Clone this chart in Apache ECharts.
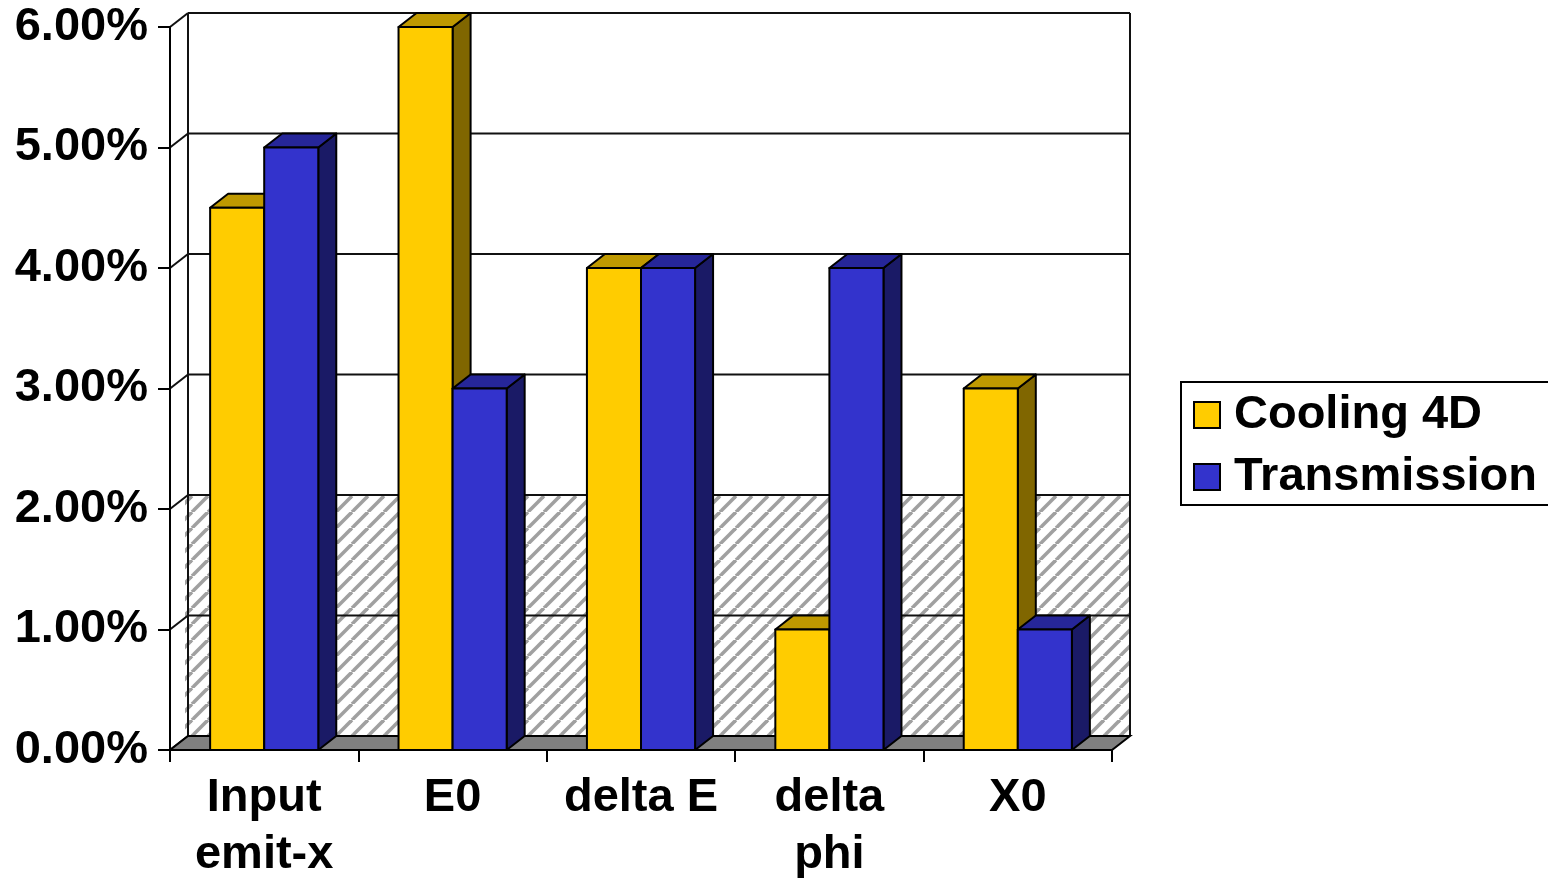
<!DOCTYPE html>
<html>
<head>
<meta charset="utf-8">
<title>Cooling 4D vs Transmission</title>
<script src="https://cdn.jsdelivr.net/npm/echarts@6/dist/echarts.min.js"></script>
<style>
  html, body { margin: 0; padding: 0; background: #fff; }
  #chart { width: 1548px; height: 881px; }
</style>
</head>
<body>
<div id="chart"></div>
<script>
// Categories and series values (percent)
const categories = ['Input\nemit-x', 'E0', 'delta E', 'delta\nphi', 'X0'];
const seriesNames = ['Cooling 4D', 'Transmission'];
const cooling4D = [4.5, 6.0, 4.0, 1.0, 3.0];
const transmission = [5.0, 3.0, 4.0, 4.0, 1.0];
// Value axis ticks (percent)
const yTicks = [0, 1, 2, 3, 4, 5, 6];
// Hatched band on the back wall (percent range)
const hatchBand = [0, 2];

// Face colours: front, top, side
const palette = [
  { front: '#FFCC00', top: '#BF9900', side: '#806600' },
  { front: '#3333CC', top: '#262699', side: '#1A1A66' }
];

const FONT = "'Liberation Sans', Arial, sans-serif";
const DEPTH_X = 18;   // 3D depth offset to the right
const DEPTH_Y = -14;  // 3D depth offset upwards
const BAR_FRAC = 0.287; // bar width as a fraction of the category width

// Diagonal hatch tile
function makeHatch() {
  const s = 16;
  const c = document.createElement('canvas');
  c.width = s; c.height = s;
  const g = c.getContext('2d');
  g.fillStyle = '#fff';
  g.fillRect(0, 0, s, s);
  g.strokeStyle = '#a0a0a0';
  g.lineWidth = 3.6;
  for (let k = -1; k <= 2; k++) {
    g.beginPath();
    g.moveTo(k * s - s, s);
    g.lineTo(k * s, 0);
    g.stroke();
  }
  return c;
}
const hatchTile = makeHatch();

// Back wall, side wall, floor and gridlines
function renderWalls(params, api) {
  const cs = params.coordSys;
  const x0 = cs.x, x1 = cs.x + cs.width;
  const yBase = api.coord([0, 0])[1];
  const yTop = api.coord([0, yTicks[yTicks.length - 1]])[1];
  const bx0 = x0 + DEPTH_X, bx1 = x1 + DEPTH_X;
  const children = [];
  const lineStyle = { stroke: '#111', lineWidth: 2, fill: null };

  // back wall
  children.push({ type: 'rect', shape: { x: bx0, y: yTop + DEPTH_Y, width: bx1 - bx0, height: yBase - yTop }, style: { fill: '#fff' } });
  // hatched band
  const hy0 = api.coord([0, hatchBand[1]])[1] + DEPTH_Y;
  const hy1 = api.coord([0, hatchBand[0]])[1] + DEPTH_Y;
  children.push({ type: 'rect', shape: { x: bx0 - 3, y: hy0, width: bx1 - bx0 + 3, height: hy1 - hy0 }, style: { fill: { image: hatchTile, repeat: 'repeat' } } });

  // gridlines on back wall and side wall
  yTicks.forEach(function (v) {
    const y = api.coord([0, v])[1];
    children.push({ type: 'line', shape: { x1: bx0, y1: y + DEPTH_Y, x2: bx1, y2: y + DEPTH_Y }, style: lineStyle });
    children.push({ type: 'line', shape: { x1: x0, y1: y, x2: bx0, y2: y + DEPTH_Y }, style: lineStyle });
  });
  // back wall vertical edges
  children.push({ type: 'line', shape: { x1: bx0, y1: yTop + DEPTH_Y, x2: bx0, y2: yBase + DEPTH_Y }, style: lineStyle });
  children.push({ type: 'line', shape: { x1: bx1, y1: yTop + DEPTH_Y, x2: bx1, y2: yBase + DEPTH_Y }, style: lineStyle });

  // floor
  children.push({
    type: 'polygon',
    shape: { points: [[x0, yBase], [x1, yBase], [bx1, yBase + DEPTH_Y], [bx0, yBase + DEPTH_Y]] },
    style: { fill: '#808080', stroke: '#000', lineWidth: 2 }
  });
  return { type: 'group', children: children };
}

// 3D bar: front, top and side faces
function makeBarRenderer(seriesIndex) {
  const col = palette[seriesIndex];
  return function (params, api) {
    const idx = api.value(0);
    const v = api.value(1);
    const top = api.coord([idx, v]);
    const base = api.coord([idx, 0]);
    const cw = api.size([1, 0])[0];
    const w = cw * BAR_FRAC;
    const xl = top[0] - w + seriesIndex * w;
    const xr = xl + w;
    const yt = top[1], yb = base[1];
    const stroke = { stroke: '#000', lineWidth: 2, lineJoin: 'round' };
    return {
      type: 'group',
      children: [
        { type: 'polygon', shape: { points: [[xr, yt], [xr + DEPTH_X, yt + DEPTH_Y], [xr + DEPTH_X, yb + DEPTH_Y], [xr, yb]] }, style: Object.assign({ fill: col.side }, stroke) },
        { type: 'polygon', shape: { points: [[xl, yt], [xl + DEPTH_X, yt + DEPTH_Y], [xr + DEPTH_X, yt + DEPTH_Y], [xr, yt]] }, style: Object.assign({ fill: col.top }, stroke) },
        { type: 'rect', shape: { x: xl, y: yt, width: w, height: yb - yt }, style: Object.assign({ fill: col.front }, stroke) }
      ]
    };
  };
}

const chart = echarts.init(document.getElementById('chart'));
chart.setOption({
  animation: false,
  backgroundColor: '#fff',
  grid: { left: 170, top: 27, width: 942, height: 723, containLabel: false, outerBoundsMode: 'none' },
  legend: {
    data: seriesNames,
    orient: 'vertical',
    left: 1181,
    top: 382,
    icon: 'rect',
    itemWidth: 26,
    itemHeight: 26,
    itemGap: 12,
    padding: [8, 30, 3, 12],
    borderColor: '#000',
    borderWidth: 2,
    backgroundColor: '#fff',
    selectedMode: false,
    itemStyle: { borderColor: '#000', borderWidth: 2 },
    textStyle: { fontFamily: FONT, fontWeight: 'bold', fontSize: 47, color: '#000', lineHeight: 50, padding: [0, 0, 0, 9] }
  },
  xAxis: {
    type: 'category',
    data: categories,
    boundaryGap: true,
    axisLine: { show: true, lineStyle: { color: '#000', width: 2 } },
    axisTick: { show: true, length: 12, alignWithLabel: false, lineStyle: { color: '#000', width: 2 } },
    axisLabel: { interval: 0, margin: 20, fontFamily: FONT, fontWeight: 'bold', fontSize: 47, color: '#000', lineHeight: 57 },
    splitLine: { show: false },
    z: 10
  },
  yAxis: {
    type: 'value',
    min: 0,
    max: 6,
    interval: 1,
    axisLine: { show: true, lineStyle: { color: '#000', width: 2 } },
    axisTick: { show: true, length: 12, lineStyle: { color: '#000', width: 2 } },
    axisLabel: {
      margin: 22,
      fontFamily: FONT, fontWeight: 'bold', fontSize: 47, color: '#000',
      formatter: function (v) { return v.toFixed(2) + '%'; }
    },
    splitLine: { show: false },
    z: 10
  },
  series: [
    {
      name: 'walls',
      type: 'custom',
      silent: true,
      clip: false,
      renderItem: renderWalls,
      data: [[0, 0]],
      z: 1
    },
    {
      name: seriesNames[0],
      type: 'custom',
      silent: true,
      clip: false,
      itemStyle: { color: palette[0].front },
      renderItem: makeBarRenderer(0),
      encode: { x: 0, y: 1 },
      data: cooling4D.map(function (v, i) { return [i, v]; }),
      z: 2
    },
    {
      name: seriesNames[1],
      type: 'custom',
      silent: true,
      clip: false,
      itemStyle: { color: palette[1].front },
      renderItem: makeBarRenderer(1),
      encode: { x: 0, y: 1 },
      data: transmission.map(function (v, i) { return [i, v]; }),
      z: 3
    }
  ]
});
</script>
</body>
</html>
